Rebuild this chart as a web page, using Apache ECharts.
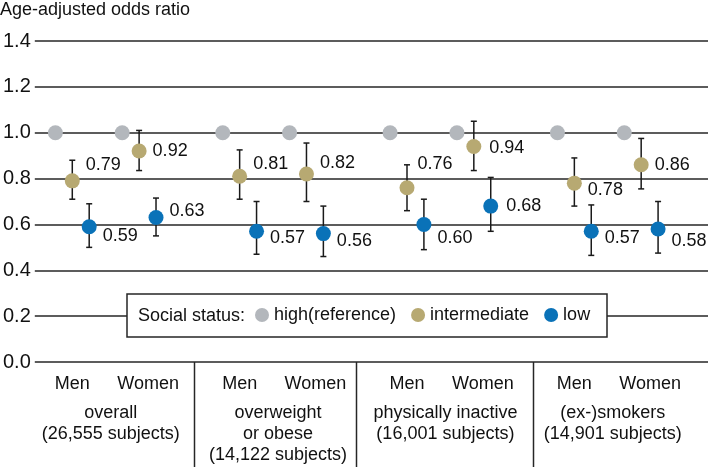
<!DOCTYPE html>
<html lang="en">
<head>
<meta charset="UTF-8">
<title>Age-adjusted odds ratio</title>
<style>
  html, body { margin: 0; padding: 0; background: #ffffff; }
</style>
</head>
<body>
<div id="main" style="width: 710px;height:472px;"></div>
<script src="https://cdn.jsdelivr.net/npm/echarts@6/dist/echarts.min.js"></script>
<script type="text/javascript">
  // data
  var groupNames = ['overall\n(26,555 subjects)', 'overweight\nor obese\n(14,122 subjects)',
                    'physically inactive\n(16,001 subjects)', '(ex-)smokers\n(14,901 subjects)'];
  var sexNames = ['Men', 'Women'];
  var seriesNames = ['high(reference)', 'intermediate', 'low'];
  var yTicks = [0, 0.2, 0.4, 0.6, 0.8, 1.0, 1.2, 1.4];

  // one value per subgroup: G1 Men, G1 Women, G2 Men, ...
  var highVals = [1, 1, 1, 1, 1, 1, 1, 1];
  var midVals  = [0.79, 0.92, 0.81, 0.82, 0.76, 0.94, 0.78, 0.86];
  var midLow   = [0.71, 0.835, 0.71, 0.70, 0.66, 0.835, 0.68, 0.755];
  var midHigh  = [0.88, 1.01, 0.925, 0.955, 0.86, 1.05, 0.89, 0.975];
  var lowVals  = [0.59, 0.63, 0.57, 0.56, 0.60, 0.68, 0.57, 0.58];
  var lowLow   = [0.50, 0.55, 0.47, 0.46, 0.49, 0.57, 0.465, 0.475];
  var lowHigh  = [0.69, 0.715, 0.70, 0.68, 0.71, 0.805, 0.685, 0.70];

  // layout (x axis runs in pixel-like units across the grid)
  var xBase = 37.7, groupGap = 168.3, sexGap = 67.2, pointGap = 17;
  var separatorsX = [159.7, 323, 501.3];
  var midLabelOffset = [[0, -16], [0, 0], [0, -12], [0, -11], [-3, -24], [2, 2], [0, 7], [0, 0]];
  var lowLabelOffset = [[0, 9], [0, -7], [0, 7], [0, 7], [0, 14], [2, 0], [0, 7], [0, 12]];
  var colors = ['#b3b7bc', '#b7a972', '#0a72b8'];
  var ink = '#111111';
  var font = "'Liberation Sans', Arial, sans-serif";

  function xPos(i, k) {
    var g = Math.floor(i / 2), s = i % 2;
    return xBase + g * groupGap + s * sexGap + (k - 1) * pointGap;
  }

  function pointData(vals, k, offsets) {
    return vals.map(function (v, i) {
      var item = { value: [xPos(i, k), v] };
      if (offsets) item.label = { offset: offsets[i] };
      return item;
    });
  }

  function ciData(lo, hi, k) {
    return lo.map(function (l, i) { return [xPos(i, k), l, hi[i]]; });
  }

  function renderCI(params, api) {
    var top = api.coord([api.value(0), api.value(2)]);
    var bot = api.coord([api.value(0), api.value(1)]);
    var st = { stroke: '#1a1a1a', lineWidth: 1.5 };
    return {
      type: 'group',
      children: [
        { type: 'line', shape: { x1: top[0], y1: top[1], x2: bot[0], y2: bot[1] }, style: st },
        { type: 'line', shape: { x1: top[0] - 3, y1: top[1], x2: top[0] + 3, y2: top[1] }, style: st },
        { type: 'line', shape: { x1: bot[0] - 3, y1: bot[1], x2: bot[0] + 3, y2: bot[1] }, style: st }
      ]
    };
  }

  var pointLabel = {
    show: true,
    position: 'right',
    distance: 6,
    fontSize: 18,
    color: ink,
    formatter: function (p) { return p.value[1].toFixed(2); }
  };

  var myChart = echarts.init(document.getElementById('main'));

  var option = {
    backgroundColor: '#ffffff',
    animation: false,
    textStyle: { fontFamily: font },
    color: colors,
    title: {
      text: 'Age-adjusted odds ratio',
      left: 0,
      top: 1,
      padding: 0,
      textStyle: { fontSize: 18, fontWeight: 'normal', color: ink, fontFamily: font }
    },
    grid: { left: 31, right: 2, top: 41, bottom: 110 },
    xAxis: {
      type: 'value',
      min: 0,
      max: 677,
      show: false
    },
    yAxis: {
      type: 'value',
      min: yTicks[0],
      max: yTicks[yTicks.length - 1],
      interval: 0.2,
      axisLine: { show: false },
      axisTick: { show: false },
      axisLabel: {
        fontSize: 20,
        color: ink,
        margin: 4,
        formatter: function (v) { return v.toFixed(1); }
      },
      splitLine: { lineStyle: { color: '#262626', width: 1.5 } }
    },
    legend: {
      data: seriesNames,
      left: 255,
      top: 306,
      padding: 0,
      z: 20,
      icon: 'circle',
      itemWidth: 14,
      itemHeight: 14,
      itemGap: 15,
      textStyle: { fontSize: 18, color: ink, fontFamily: font }
    },
    graphic: [
      {
        type: 'rect', z: 10,
        shape: { x: 127, y: 294, width: 480, height: 43 },
        style: { fill: '#ffffff', stroke: '#262626', lineWidth: 1.5 }
      },
      {
        type: 'text', z: 20, x: 138, y: 316,
        style: { text: 'Social status:', fontSize: 18, fill: ink, fontFamily: font, verticalAlign: 'middle' }
      }
    ],
    series: [
      {
        name: 'ci-intermediate', type: 'custom', z: 2,
        renderItem: renderCI, data: ciData(midLow, midHigh, 1)
      },
      {
        name: 'ci-low', type: 'custom', z: 2,
        renderItem: renderCI, data: ciData(lowLow, lowHigh, 2)
      },
      {
        name: seriesNames[0], type: 'scatter', z: 3, symbolSize: 15,
        itemStyle: { color: colors[0], opacity: 1 },
        data: pointData(highVals, 0)
      },
      {
        name: seriesNames[1], type: 'scatter', z: 3, symbolSize: 15,
        itemStyle: { color: colors[1], opacity: 1 },
        label: pointLabel,
        data: pointData(midVals, 1, midLabelOffset)
      },
      {
        name: seriesNames[2], type: 'scatter', z: 3, symbolSize: 15,
        itemStyle: { color: colors[2], opacity: 1 },
        label: pointLabel,
        data: pointData(lowVals, 2, lowLabelOffset)
      }
    ]
  };
  myChart.setOption(option);

  // bottom category labels and separators, placed through the x scale
  var y0 = myChart.convertToPixel({ yAxisIndex: 0 }, 0);
  var extra = option.graphic.slice();
  groupNames.forEach(function (name, g) {
    sexNames.forEach(function (sx, s) {
      var px = myChart.convertToPixel({ xAxisIndex: 0 }, xPos(g * 2 + s, 1)) + (s === 1 ? 9 : 0);
      extra.push({
        type: 'text', x: px, y: y0 + 22,
        style: { text: sx, fontSize: 18, fill: ink, fontFamily: font, align: 'center', verticalAlign: 'middle' }
      });
    });
    var cx = (xPos(g * 2, 1) + xPos(g * 2 + 1, 1)) / 2;
    extra.push({
      type: 'text', x: myChart.convertToPixel({ xAxisIndex: 0 }, cx) + 5, y: y0 + 41,
      style: { text: name, fontSize: 18, lineHeight: 21, fill: ink, fontFamily: font, align: 'center', verticalAlign: 'top' }
    });
  });
  separatorsX.forEach(function (sx) {
    var px = Math.round(myChart.convertToPixel({ xAxisIndex: 0 }, sx)) + 0.5;
    extra.push({
      type: 'line',
      shape: { x1: px, y1: y0, x2: px, y2: y0 + 105 },
      style: { stroke: '#262626', lineWidth: 1.5 }
    });
  });
  myChart.setOption({ graphic: extra });
</script>
</body>
</html>
